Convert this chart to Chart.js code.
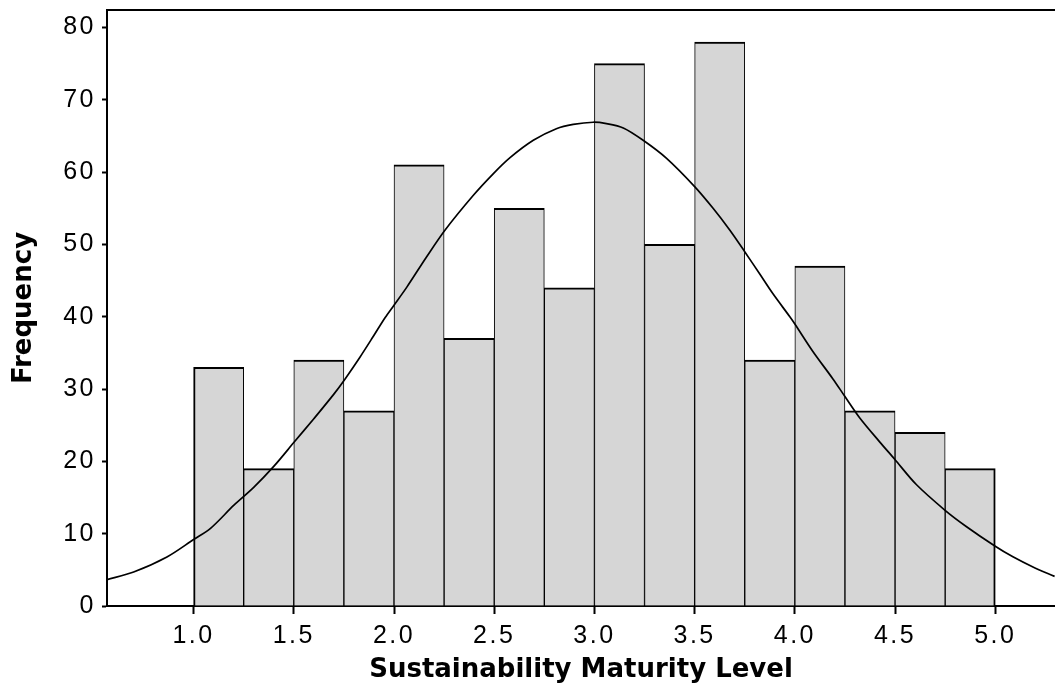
<!DOCTYPE html>
<html>
<head>
<meta charset="utf-8">
<script src="https://cdn.jsdelivr.net/npm/chart.js@4/dist/chart.umd.min.js"></script>
<style>
  html, body { margin: 0; padding: 0; background: #ffffff; }
  #wrap { width: 1055px; height: 693px; position: relative; }
</style>
</head>
<body>
<div id="wrap"><canvas id="c"></canvas></div>
<script>
// ---- data ----
const binCenters = [1.125, 1.375, 1.625, 1.875, 2.125, 2.375, 2.625, 2.875,
                    3.125, 3.375, 3.625, 3.875, 4.125, 4.375, 4.625, 4.875];
const frequencies = [33, 19, 34, 27, 61, 37, 55, 44, 75, 50, 78, 34, 47, 27, 24, 19];

const curveX = [0.568, 0.701, 0.867, 1.000, 1.083, 1.200, 1.300, 1.400, 1.500, 1.600,
                1.700, 1.756, 1.830, 1.897, 1.956, 2.000, 2.064, 2.163, 2.255, 2.396,
                2.496, 2.579, 2.695, 2.810, 2.894, 2.994, 3.060, 3.144, 3.243, 3.360,
                3.500, 3.592, 3.675, 3.750, 3.825, 3.890, 3.975, 4.000, 4.090, 4.190,
                4.249, 4.324, 4.423, 4.498, 4.606, 4.751, 4.855, 4.998, 5.088, 5.188, 5.296];
const curveY = [3.65, 4.70, 6.78, 9.19, 10.7, 13.9, 16.4, 19.3, 22.6, 25.9,
                29.3, 31.4, 34.4, 37.3, 39.9, 41.6, 44.1, 48.3, 52.0, 56.8,
                59.8, 62.0, 64.4, 66.0, 66.6, 66.9, 66.7, 66.1, 64.4, 61.9,
                58.0, 55.0, 52.0, 49.0, 45.9, 43.2, 40.0, 39.0, 35.2, 31.4,
                29.0, 26.0, 22.7, 20.3, 16.8, 13.2, 11.0, 8.3, 6.8, 5.4, 4.1];

const xTickValues = [1.0, 1.5, 2.0, 2.5, 3.0, 3.5, 4.0, 4.5, 5.0];
const yTickValues = [0, 10, 20, 30, 40, 50, 60, 70, 80];

const xAxisTitle = 'Sustainability Maturity Level';
const yAxisTitle = 'Frequency';

// ---- chart ----
const barData = binCenters.map((x, i) => ({ x: x, y: frequencies[i] }));
const curveData = curveX.map((x, i) => ({ x: x, y: curveY[i] }));

const topBorder = {
  id: 'topBorder',
  afterDraw(chart) {
    const { ctx, chartArea } = chart;
    ctx.save();
    ctx.strokeStyle = '#000';
    ctx.lineWidth = 2;
    ctx.beginPath();
    ctx.moveTo(chartArea.left - 1, chartArea.top);
    ctx.lineTo(chartArea.right, chartArea.top);
    ctx.stroke();
    ctx.restore();
  }
};

const spacedLabels = {
  id: 'spacedLabels',
  afterLayout(chart) {
    Object.values(chart.scales).forEach(scale => {
      if (scale._spacedPatched) return;
      const orig = scale.drawLabels;
      scale.drawLabels = function (area) {
        const ctx = this.ctx;
        ctx.save();
        if ('letterSpacing' in ctx) ctx.letterSpacing = '2.5px';
        orig.call(this, area);
        ctx.restore();
      };
      scale._spacedPatched = true;
    });
  }
};

new Chart(document.getElementById('c'), {
  data: {
    datasets: [
      {
        type: 'scatter',
        data: curveData,
        showLine: true,
        borderColor: '#000000',
        borderWidth: 1.7,
        pointRadius: 0,
        tension: 0.3,
        fill: false,
        order: 0
      },
      {
        type: 'bar',
        data: barData,
        backgroundColor: '#d6d6d6',
        borderColor: '#000000',
        borderSkipped: false,
        borderWidth: (ctx) => ({
          top: 2,
          bottom: 0,
          left: ctx.dataIndex === 0 ? 2 : 1,
          right: ctx.dataIndex === frequencies.length - 1 ? 2 : 1
        }),
        barPercentage: 1.0,
        categoryPercentage: 1.0,
        order: 1
      }
    ]
  },
  options: {
    responsive: true,
    maintainAspectRatio: false,
    animation: false,
    layout: { padding: { top: 10, right: 0, left: 0, bottom: 0 } },
    plugins: {
      legend: { display: false },
      tooltip: { enabled: false }
    },
    scales: {
      x: {
        type: 'linear',
        offset: false,
        min: 0.568,
        max: 5.298,
        afterBuildTicks: (scale) => { scale.ticks = xTickValues.map(v => ({ value: v })); },
        afterFit: (scale) => { scale.height = 87; scale.paddingLeft = 0; scale.paddingRight = 0; },
        ticks: {
          color: '#000',
          font: { family: 'Liberation Sans, Arial, sans-serif', size: 25 },
          padding: 7,
          maxRotation: 0,
          autoSkip: false,
          callback: (v) => Number(v).toFixed(1)
        },
        grid: {
          offset: false,
          drawOnChartArea: false,
          drawTicks: true,
          tickLength: 8,
          tickWidth: 2,
          tickColor: '#000'
        },
        border: { display: true, color: '#000', width: 2 },
        title: {
          display: true,
          text: xAxisTitle,
          color: '#000',
          font: { family: 'DejaVu Sans, Verdana, sans-serif', size: 26, weight: 'bold' },
          padding: { top: 0, bottom: 7 }
        }
      },
      y: {
        type: 'linear',
        min: 0,
        max: 82.42,
        afterBuildTicks: (scale) => { scale.ticks = yTickValues.map(v => ({ value: v })); },
        afterFit: (scale) => { scale.width = 107; scale.paddingTop = 0; scale.paddingBottom = 0; },
        ticks: {
          color: '#000',
          font: { family: 'Liberation Sans, Arial, sans-serif', size: 25 },
          padding: 6,
          autoSkip: false,
          callback: (v) => String(v)
        },
        grid: {
          drawOnChartArea: false,
          drawTicks: true,
          tickLength: 5,
          tickWidth: 2,
          tickColor: '#000'
        },
        border: { display: true, color: '#000', width: 2 },
        title: {
          display: true,
          text: yAxisTitle,
          color: '#000',
          font: { family: 'DejaVu Sans, Verdana, sans-serif', size: 26, weight: 'bold' },
          padding: { top: 9, bottom: 0 }
        }
      }
    }
  },
  plugins: [topBorder, spacedLabels]
});
</script>
</body>
</html>
